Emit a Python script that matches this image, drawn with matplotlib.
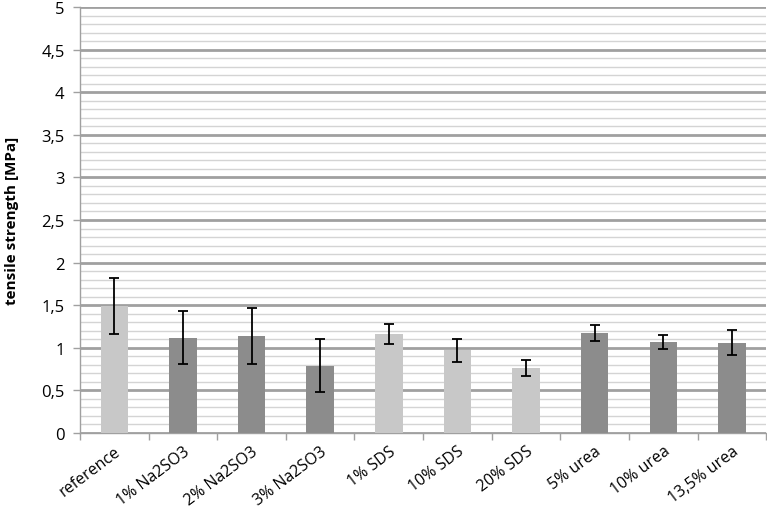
import matplotlib
matplotlib.use("Agg")
import matplotlib.pyplot as plt
from matplotlib.ticker import MultipleLocator, FuncFormatter
import numpy as np

categories = ["reference", "1% Na2SO3", "2% Na2SO3", "3% Na2SO3", "1% SDS",
              "10% SDS", "20% SDS", "5% urea", "10% urea", "13,5% urea"]
values = [1.49, 1.12, 1.14, 0.79, 1.16, 0.97, 0.76, 1.17, 1.07, 1.06]
errors = [0.33, 0.31, 0.33, 0.31, 0.12, 0.135, 0.095, 0.095, 0.085, 0.15]
bar_colors = ["#c8c8c8", "#8c8c8c", "#8c8c8c", "#8c8c8c", "#c8c8c8",
              "#c8c8c8", "#c8c8c8", "#8c8c8c", "#8c8c8c", "#8c8c8c"]

plt.rcParams['font.family'] = ['Open Sans', 'DejaVu Sans']

fig = plt.figure(figsize=(7.67, 5.10), dpi=100)
ax = fig.add_axes([80/767, 1-434/510, 1-80/767 - 0.001, (434-8)/510])

x = np.arange(len(categories))
ax.bar(x, values, width=0.4, color=bar_colors, zorder=3)
ax.errorbar(x, values, yerr=errors, fmt='none', ecolor='black',
            elinewidth=1.3, capsize=3.5, capthick=1.3, zorder=4)

ax.set_xlim(-0.5, len(categories) - 0.5)
ax.set_ylim(0, 5)
ax.yaxis.set_major_locator(MultipleLocator(0.5))
ax.yaxis.set_minor_locator(MultipleLocator(0.1))
ax.yaxis.set_major_formatter(FuncFormatter(lambda v, p: (f"{v:g}").replace('.', ',')))
ax.grid(which='major', axis='y', color='#a0a0a0', linewidth=2.0, zorder=0)
ax.grid(which='minor', axis='y', color='#d4d4d4', linewidth=1.0, zorder=0)

ax.set_xticks(x)
ax.set_xticklabels(categories, rotation=37, ha='right', rotation_mode='anchor', fontsize=11.5)
ax.set_xticks(np.arange(len(categories) + 1) - 0.5, minor=True)
ax.tick_params(axis='x', which='major', length=0, pad=7)
ax.tick_params(axis='x', which='minor', length=5, color='#a0a0a0', width=1)
ax.tick_params(axis='y', which='major', length=5, color='#a0a0a0', width=1, labelsize=12, pad=6)
ax.tick_params(axis='y', which='minor', length=0)

for s in ['top', 'right']:
    ax.spines[s].set_visible(False)
for s in ['left', 'bottom']:
    ax.spines[s].set_color('#a0a0a0')
    ax.spines[s].set_linewidth(1)

ax.set_ylabel("tensile strength [MPa]", fontsize=11, fontweight='bold', labelpad=16)

fig.savefig("out.png", dpi=100)
